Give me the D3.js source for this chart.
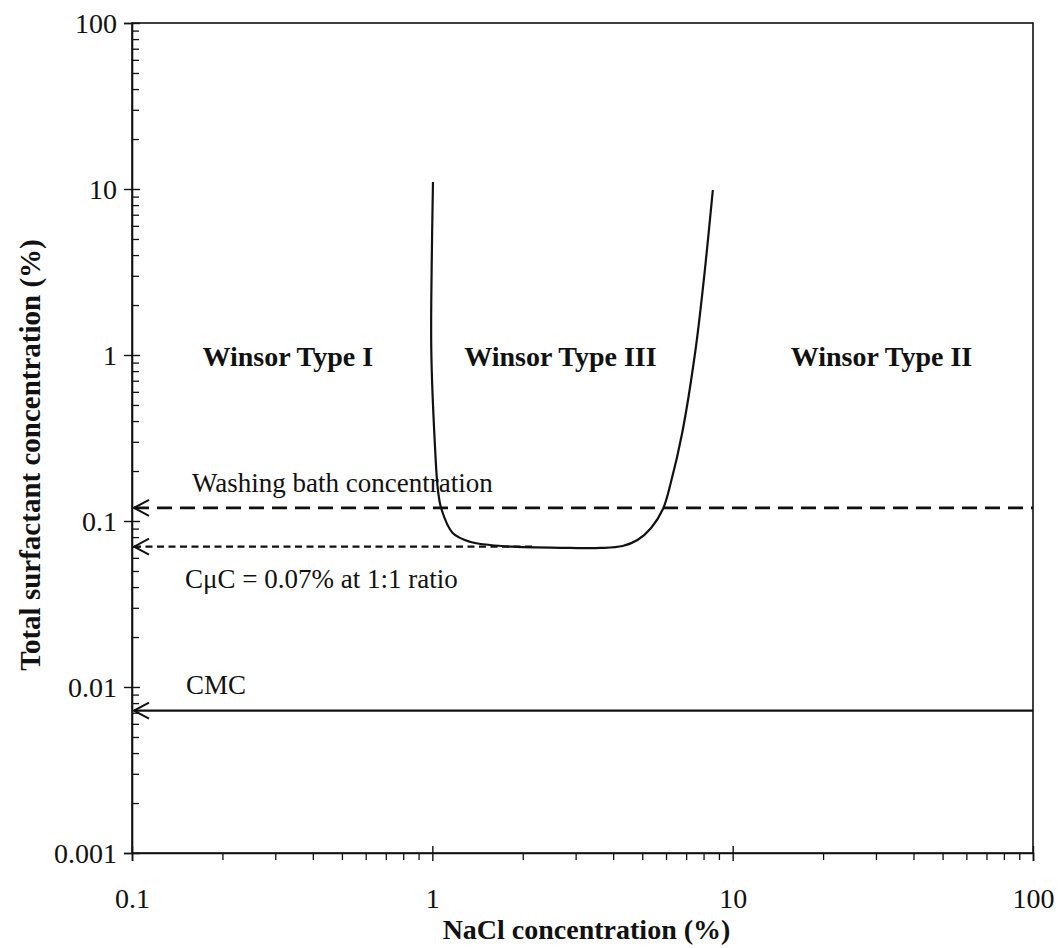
<!DOCTYPE html>
<html>
<head>
<meta charset="utf-8">
<script src="https://cdn.jsdelivr.net/npm/d3@7"></script>
<style>
  html, body { margin: 0; padding: 0; background: #fff; }
  svg { display: block; }
  text { font-family: "Liberation Serif", "Times New Roman", serif; fill: #111; }
</style>
</head>
<body>
<svg id="chart" width="1058" height="948"></svg>
<script>
// ---- data ----
const xMajorTicks = [0.1, 1, 10, 100];
const xTickLabels = ["0.1", "1", "10", "100"];
const yMajorTicks = [0.001, 0.01, 0.1, 1, 10, 100];
const yTickLabels = ["0.001", "0.01", "0.1", "1", "10", "100"];

// phase boundary curve (NaCl %, total surfactant %)
const boundaryNaCl = [1.005, 0.995, 0.992, 1.018, 1.044, 1.072, 1.169, 1.333, 1.555, 1.855, 2.877, 3.63, 4.30, 4.82, 5.35, 5.86, 6.22, 6.79, 7.52, 8.08, 8.59];
const boundarySurf = [11.02, 3.44, 1.072, 0.3076, 0.1537, 0.1181, 0.0847, 0.0750, 0.0717, 0.0700, 0.0688, 0.0688, 0.0707, 0.0768, 0.0908, 0.1181, 0.1694, 0.339, 1.072, 3.25, 9.86];

const washingConc = 0.12;  // washing bath concentration
const cmucConc = 0.07;     // CμC
const cmucEndNaCl = 2.2;
const cmcConc = 0.0072;    // CMC

const regionLabels = ["Winsor Type I", "Winsor Type III", "Winsor Type II"];
const regionNaCl = [0.33, 2.67, 31.3];
const regionSurf = [1.0, 1.0, 1.0];

// ---- layout ----
const svg = d3.select("#chart");
const mLeft = 132, mRight = 1033, mTop = 23, mBottom = 853;
const x = d3.scaleLog().domain([0.1, 100]).range([mLeft, mRight]);
const y = d3.scaleLog().domain([0.001, 100]).range([mBottom, mTop]);

const ink = "#111";

// frame
svg.append("rect").attr("x", mLeft).attr("y", mTop)
  .attr("width", mRight - mLeft).attr("height", mBottom - mTop)
  .attr("fill", "none").attr("stroke", ink).attr("stroke-width", 1.6);

// minor tick values
const xMinor = [];
[0.1, 1, 10].forEach(d => { for (let k = 2; k <= 9; k++) xMinor.push(d * k); });
const yMinor = [];
[0.001, 0.01, 0.1, 1, 10].forEach(d => { for (let k = 2; k <= 9; k++) yMinor.push(d * k); });

// x axis
const gx = svg.append("g").attr("transform", `translate(0,${mBottom})`);
gx.call(d3.axisBottom(x).tickValues(xMajorTicks).tickSize(8).tickFormat((d, i) => xTickLabels[i]));
gx.select(".domain").attr("stroke", ink).attr("stroke-width", 1.6);
gx.selectAll(".tick line").attr("y1", -7).attr("stroke", ink).attr("stroke-width", 1.4);
gx.selectAll(".tick text").attr("y", 55).attr("dy", 0)
  .style("font-size", "28px").style("font-family", "Liberation Serif").attr("fill", ink);
const gxm = svg.append("g").attr("transform", `translate(0,${mBottom})`);
gxm.call(d3.axisBottom(x).tickValues(xMinor).tickSize(7).tickFormat(""));
gxm.select(".domain").remove();
gxm.selectAll(".tick line").attr("stroke", ink).attr("stroke-width", 1.3);

// y axis
const gy = svg.append("g").attr("transform", `translate(${mLeft},0)`);
gy.call(d3.axisLeft(y).tickValues(yMajorTicks).tickSize(8).tickFormat((d, i) => yTickLabels[i]));
gy.select(".domain").attr("stroke", ink).attr("stroke-width", 1.6);
gy.selectAll(".tick line").attr("x1", 8).attr("stroke", ink).attr("stroke-width", 1.4);
gy.selectAll(".tick text").attr("x", -15).attr("dy", "0.33em")
  .style("font-size", "28px").style("font-family", "Liberation Serif").attr("fill", ink);
const gym = svg.append("g").attr("transform", `translate(${mLeft},0)`);
gym.call(d3.axisLeft(y).tickValues(yMinor).tickSize(-7).tickFormat(""));
gym.select(".domain").remove();
gym.selectAll(".tick line").attr("stroke", ink).attr("stroke-width", 1.3);

// axis titles
svg.append("text").attr("x", (mLeft + mRight) / 2 + 4).attr("y", 939)
  .attr("text-anchor", "middle").style("font-size", "28px").style("font-weight", "bold")
  .text("NaCl concentration (%)");
svg.append("text")
  .attr("transform", `translate(40,455) rotate(-90)`)
  .attr("text-anchor", "middle").style("font-size", "29px").style("font-weight", "bold")
  .text("Total surfactant concentration (%)");

// arrow marker
const defs = svg.append("defs");
defs.append("marker").attr("id", "arr").attr("markerUnits", "userSpaceOnUse")
  .attr("viewBox", "-2 -10 20 20").attr("refX", 0).attr("refY", 0)
  .attr("markerWidth", 20).attr("markerHeight", 20).attr("orient", "auto")
  .append("path").attr("d", "M15,-8 L0,0 L15,8").attr("fill", "none")
  .attr("stroke", ink).attr("stroke-width", 2);

// horizontal reference lines
svg.append("line").attr("x1", x(0.1) + 2).attr("x2", x(100))
  .attr("y1", y(washingConc)).attr("y2", y(washingConc))
  .attr("stroke", ink).attr("stroke-width", 2.6).attr("stroke-dasharray", "15,8")
  .attr("marker-start", "url(#arr)");
svg.append("line").attr("x1", x(0.1) + 2).attr("x2", x(cmucEndNaCl))
  .attr("y1", y(cmucConc)).attr("y2", y(cmucConc))
  .attr("stroke", ink).attr("stroke-width", 2.2).attr("stroke-dasharray", "7,4.5")
  .attr("marker-start", "url(#arr)");
svg.append("line").attr("x1", x(0.1) + 2).attr("x2", x(100))
  .attr("y1", y(cmcConc)).attr("y2", y(cmcConc))
  .attr("stroke", ink).attr("stroke-width", 2.2)
  .attr("marker-start", "url(#arr)");

// boundary curve
const pts = boundaryNaCl.map((v, i) => [v, boundarySurf[i]]);
const line = d3.line().x(d => x(d[0])).y(d => y(d[1])).curve(d3.curveCatmullRom.alpha(0.5));
svg.append("path").datum(pts).attr("d", line)
  .attr("fill", "none").attr("stroke", ink).attr("stroke-width", 2.2);

// annotations
svg.append("text").attr("x", 192).attr("y", 492).style("font-size", "27px").text("Washing bath concentration");
svg.append("text").attr("x", 185).attr("y", 588).style("font-size", "27px").text("CμC = 0.07% at 1:1 ratio");
svg.append("text").attr("x", 186).attr("y", 694).style("font-size", "27px").text("CMC");

// region labels
svg.selectAll(".region").data(regionLabels).enter().append("text")
  .attr("x", (d, i) => x(regionNaCl[i])).attr("y", (d, i) => y(regionSurf[i]) + 11)
  .attr("text-anchor", "middle").style("font-size", "28px").style("font-weight", "bold")
  .text(d => d);
</script>
</body>
</html>
